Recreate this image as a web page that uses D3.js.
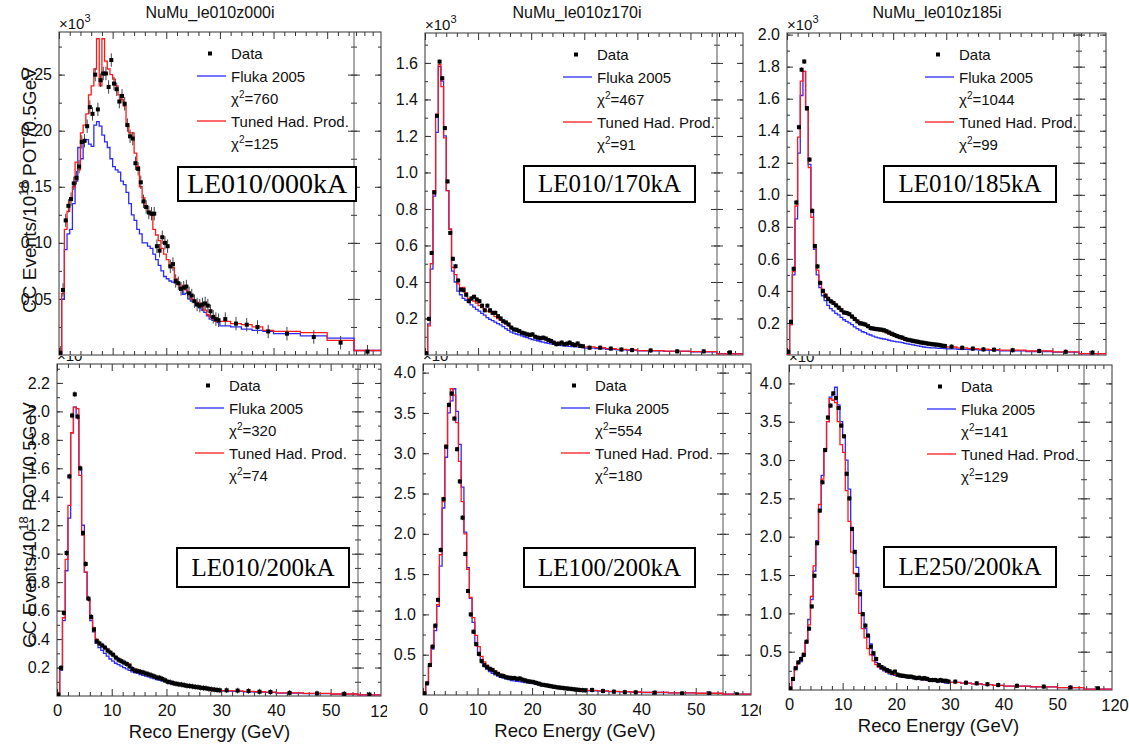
<!DOCTYPE html>
<html><head><meta charset="utf-8">
<script src="https://cdn.jsdelivr.net/npm/d3@7"></script>
<style>
body{margin:0;background:#fff;}
svg{display:block;font-family:"Liberation Sans",Arial,Helvetica,sans-serif;}
</style></head><body>
<svg id="c" width="1129" height="749"></svg>
<script>
// ---------- bin edges (GeV): 0.5 GeV up to 30, then wider bins, last bin in the compressed 55-120 region
const binEdges = d3.range(0, 30, 0.5).concat([30, 32, 34, 36, 38, 40, 45, 50, 55, 120]);

// ---------- LE010/000kA
const dataTL = [0.002,0.058,0.120,0.133,0.139,0.153,0.158,0.168,0.190,0.191,
 0.204,0.221,0.215,0.250,0.219,0.245,0.251,0.251,0.239,0.263,
 0.242,0.237,0.226,0.231,0.224,0.205,0.195,0.193,0.171,0.166,
 0.154,0.137,0.132,0.127,0.126,0.126,0.097,0.093,0.105,0.100,
 0.097,0.079,0.081,0.066,0.064,0.059,0.060,0.061,0.055,0.053,
 0.048,0.045,0.044,0.045,0.046,0.044,0.039,0.034,0.032,0.031,
 0.032,0.028,0.027,0.025,0.021,0.019,0.016,0.011,0.003];
const tunedTL = [0.000,0.055,0.112,0.128,0.140,0.150,0.172,0.165,0.198,0.205,
 0.215,0.232,0.240,0.255,0.282,0.240,0.282,0.262,0.255,0.250,
 0.246,0.240,0.232,0.228,0.222,0.205,0.198,0.198,0.180,0.168,
 0.150,0.140,0.133,0.128,0.125,0.112,0.107,0.102,0.095,0.090,
 0.085,0.080,0.078,0.068,0.064,0.060,0.062,0.058,0.055,0.050,
 0.048,0.047,0.046,0.044,0.040,0.036,0.034,0.032,0.030,0.030,
 0.030,0.028,0.027,0.025,0.022,0.021,0.020,0.013,0.004];
const flukaTL = [0.000,0.050,0.094,0.108,0.112,0.135,0.155,0.185,0.175,0.190,
 0.192,0.188,0.186,0.205,0.208,0.204,0.196,0.190,0.185,0.175,
 0.168,0.165,0.163,0.155,0.152,0.145,0.135,0.125,0.120,0.112,
 0.108,0.100,0.100,0.097,0.095,0.090,0.085,0.080,0.075,0.070,
 0.068,0.066,0.065,0.064,0.063,0.060,0.054,0.055,0.050,0.048,
 0.047,0.044,0.042,0.040,0.038,0.035,0.032,0.031,0.030,0.029,
 0.026,0.025,0.023,0.022,0.021,0.019,0.017,0.015,0.004];

// ---------- LE010/170kA
const dataTM = [0.010,0.198,0.559,0.891,1.310,1.607,1.516,1.243,0.951,0.669,
 0.527,0.486,0.408,0.359,0.355,0.330,0.295,0.310,0.319,0.304,
 0.295,0.270,0.245,0.270,0.245,0.231,0.231,0.213,0.200,0.185,
 0.178,0.167,0.150,0.140,0.138,0.131,0.122,0.118,0.113,0.110,
 0.113,0.100,0.095,0.092,0.095,0.090,0.082,0.077,0.068,0.059,
 0.062,0.068,0.059,0.062,0.068,0.059,0.055,0.063,0.050,0.048,
 0.040,0.040,0.035,0.030,0.027,0.025,0.020,0.020,0.014];
const tunedTM = [0.000,0.160,0.500,0.900,1.320,1.590,1.470,1.190,0.900,0.690,
 0.480,0.440,0.390,0.360,0.370,0.340,0.310,0.300,0.295,0.285,
 0.270,0.260,0.250,0.240,0.235,0.225,0.210,0.200,0.190,0.180,
 0.172,0.162,0.152,0.145,0.138,0.132,0.126,0.120,0.115,0.110,
 0.106,0.100,0.096,0.092,0.088,0.085,0.080,0.076,0.072,0.070,
 0.067,0.064,0.062,0.060,0.058,0.056,0.054,0.052,0.050,0.048,
 0.045,0.040,0.035,0.031,0.028,0.024,0.021,0.018,0.006];
const flukaTM = [0.000,0.170,0.470,0.870,1.220,1.580,1.500,1.200,0.900,0.690,
 0.460,0.400,0.350,0.330,0.310,0.300,0.290,0.275,0.262,0.250,
 0.240,0.228,0.218,0.205,0.195,0.188,0.180,0.172,0.165,0.155,
 0.145,0.135,0.125,0.120,0.115,0.110,0.105,0.100,0.095,0.090,
 0.085,0.082,0.078,0.074,0.070,0.067,0.064,0.061,0.058,0.056,
 0.054,0.052,0.050,0.049,0.047,0.046,0.045,0.044,0.043,0.042,
 0.038,0.035,0.031,0.028,0.026,0.023,0.020,0.017,0.007];

// ---------- LE010/185kA
const dataTR = [0.020,0.207,0.538,0.952,1.422,1.781,1.832,1.540,1.220,0.900,
 0.680,0.553,0.450,0.400,0.370,0.350,0.335,0.325,0.310,0.295,
 0.280,0.265,0.262,0.255,0.240,0.225,0.210,0.198,0.195,0.190,
 0.180,0.168,0.165,0.162,0.160,0.158,0.155,0.148,0.140,0.132,
 0.125,0.118,0.112,0.108,0.100,0.095,0.092,0.088,0.085,0.082,
 0.078,0.076,0.073,0.070,0.068,0.066,0.064,0.062,0.058,0.056,
 0.052,0.045,0.040,0.035,0.033,0.030,0.025,0.020,0.015];
const tunedTR = [0.000,0.190,0.520,0.930,1.360,1.710,1.770,1.530,1.170,0.860,
 0.670,0.530,0.450,0.410,0.380,0.360,0.340,0.330,0.310,0.295,
 0.280,0.270,0.260,0.250,0.240,0.228,0.215,0.205,0.198,0.190,
 0.182,0.172,0.165,0.160,0.155,0.150,0.145,0.140,0.132,0.125,
 0.118,0.112,0.106,0.100,0.096,0.092,0.088,0.084,0.080,0.077,
 0.074,0.071,0.068,0.066,0.064,0.062,0.060,0.058,0.056,0.054,
 0.050,0.045,0.040,0.036,0.033,0.030,0.025,0.020,0.008];
const flukaTR = [0.000,0.190,0.500,0.850,1.260,1.620,1.770,1.550,1.190,0.890,
 0.660,0.500,0.420,0.370,0.340,0.310,0.290,0.275,0.260,0.250,
 0.235,0.220,0.210,0.200,0.190,0.175,0.165,0.155,0.145,0.140,
 0.130,0.125,0.118,0.112,0.107,0.103,0.100,0.097,0.092,0.088,
 0.085,0.082,0.080,0.077,0.073,0.070,0.066,0.063,0.060,0.057,
 0.054,0.050,0.048,0.046,0.045,0.044,0.043,0.042,0.041,0.040,
 0.038,0.036,0.034,0.031,0.029,0.026,0.022,0.018,0.008];

// ---------- LE010/200kA
const dataBL = [0.010,0.198,0.584,1.005,1.543,1.971,2.120,1.963,1.600,1.145,
 0.928,0.684,0.556,0.467,0.385,0.370,0.355,0.340,0.320,0.305,
 0.290,0.270,0.255,0.245,0.235,0.225,0.210,0.190,0.178,0.175,
 0.170,0.165,0.158,0.152,0.145,0.138,0.130,0.128,0.120,0.110,
 0.100,0.096,0.090,0.086,0.082,0.080,0.076,0.072,0.070,0.067,
 0.064,0.062,0.058,0.056,0.054,0.050,0.047,0.045,0.042,0.040,
 0.040,0.038,0.035,0.030,0.028,0.022,0.018,0.015,0.010];
const tunedBL = [0.000,0.200,0.550,0.960,1.340,1.850,2.030,2.020,1.550,1.130,
 0.870,0.680,0.550,0.480,0.400,0.370,0.360,0.345,0.330,0.310,
 0.290,0.275,0.260,0.245,0.230,0.220,0.225,0.200,0.190,0.180,
 0.175,0.170,0.162,0.155,0.145,0.140,0.135,0.128,0.120,0.110,
 0.105,0.100,0.094,0.090,0.085,0.080,0.078,0.074,0.070,0.068,
 0.064,0.060,0.058,0.055,0.052,0.050,0.047,0.045,0.043,0.040,
 0.038,0.036,0.033,0.030,0.027,0.022,0.018,0.014,0.008];
const flukaBL = [0.000,0.180,0.530,0.880,1.250,1.850,2.030,1.960,1.600,1.200,
 0.870,0.680,0.530,0.450,0.370,0.340,0.320,0.300,0.280,0.260,
 0.245,0.230,0.220,0.210,0.200,0.190,0.180,0.170,0.165,0.160,
 0.150,0.145,0.140,0.135,0.128,0.122,0.115,0.110,0.105,0.100,
 0.095,0.090,0.086,0.082,0.078,0.074,0.070,0.066,0.064,0.060,
 0.057,0.055,0.052,0.050,0.048,0.046,0.044,0.042,0.040,0.038,
 0.035,0.033,0.030,0.028,0.026,0.020,0.017,0.013,0.008];

// ---------- LE100/200kA
const dataBM = [0.020,0.145,0.372,0.600,0.860,1.180,1.800,2.430,3.080,3.600,
 3.740,3.430,3.050,2.650,2.200,1.750,1.290,1.000,0.785,0.630,
 0.510,0.420,0.370,0.345,0.325,0.310,0.280,0.260,0.240,0.235,
 0.220,0.215,0.210,0.210,0.200,0.205,0.190,0.180,0.170,0.165,
 0.160,0.150,0.140,0.128,0.124,0.118,0.112,0.105,0.100,0.094,
 0.090,0.086,0.082,0.078,0.075,0.070,0.066,0.062,0.060,0.058,
 0.062,0.050,0.041,0.035,0.033,0.029,0.020,0.020,0.008];
const tunedBM = [0.000,0.140,0.360,0.600,0.860,1.120,1.740,2.400,3.100,3.580,
 3.800,3.720,3.380,2.900,2.400,2.000,1.560,1.210,0.960,0.740,
 0.600,0.480,0.410,0.370,0.340,0.320,0.300,0.280,0.260,0.240,
 0.230,0.220,0.210,0.205,0.200,0.190,0.180,0.175,0.170,0.165,
 0.160,0.150,0.140,0.132,0.125,0.118,0.112,0.106,0.100,0.095,
 0.090,0.086,0.082,0.078,0.075,0.071,0.068,0.065,0.062,0.060,
 0.058,0.052,0.046,0.041,0.037,0.032,0.027,0.022,0.010];
const flukaBM = [0.000,0.140,0.360,0.570,0.800,1.100,1.600,2.320,2.950,3.500,
 3.650,3.800,3.520,3.110,2.580,2.020,1.580,1.200,0.900,0.650,
 0.520,0.420,0.360,0.320,0.290,0.270,0.250,0.235,0.220,0.210,
 0.200,0.190,0.180,0.175,0.170,0.165,0.160,0.155,0.150,0.145,
 0.140,0.133,0.126,0.120,0.114,0.108,0.102,0.097,0.092,0.087,
 0.083,0.079,0.075,0.071,0.068,0.065,0.062,0.059,0.056,0.054,
 0.052,0.048,0.043,0.039,0.035,0.031,0.026,0.021,0.010];

// ---------- LE250/200kA
const dataBR = [0.020,0.144,0.283,0.360,0.405,0.457,0.630,0.800,1.090,1.490,
 1.915,2.340,2.710,3.130,3.555,3.710,3.870,3.810,3.680,3.450,
 3.310,2.820,2.500,2.100,1.800,1.500,1.250,0.990,0.840,0.710,
 0.565,0.480,0.405,0.326,0.300,0.280,0.260,0.245,0.225,0.240,
 0.200,0.190,0.185,0.180,0.174,0.174,0.165,0.155,0.160,0.150,
 0.155,0.145,0.130,0.130,0.130,0.120,0.130,0.120,0.120,0.110,
 0.109,0.095,0.087,0.075,0.065,0.055,0.044,0.033,0.022];
const tunedBR = [0.000,0.140,0.300,0.360,0.400,0.480,0.620,0.850,1.220,1.620,
 1.930,2.420,2.750,3.150,3.500,3.800,3.780,3.750,3.500,3.200,
 3.100,2.600,2.200,1.800,1.520,1.250,1.000,0.800,0.680,0.540,
 0.460,0.380,0.330,0.300,0.280,0.260,0.240,0.220,0.210,0.200,
 0.190,0.180,0.175,0.170,0.165,0.160,0.155,0.150,0.145,0.140,
 0.135,0.130,0.128,0.125,0.120,0.118,0.115,0.112,0.110,0.108,
 0.100,0.090,0.080,0.070,0.060,0.050,0.040,0.030,0.012];
const flukaBR = [0.000,0.130,0.280,0.350,0.370,0.450,0.620,0.920,1.180,1.550,
 1.950,2.350,2.800,3.150,3.500,3.820,3.850,3.950,3.720,3.500,
 3.320,3.000,2.620,2.120,1.820,1.600,1.300,1.000,0.800,0.700,
 0.600,0.450,0.360,0.300,0.270,0.250,0.230,0.210,0.200,0.190,
 0.180,0.175,0.170,0.165,0.160,0.155,0.150,0.145,0.140,0.135,
 0.130,0.125,0.120,0.120,0.115,0.110,0.105,0.100,0.090,0.100,
 0.100,0.090,0.080,0.070,0.060,0.050,0.040,0.030,0.012];

// ---------- tick values
const xMajor = [0, 10, 20, 30, 40, 50];
const xMinor = [2,4,6,8,12,14,16,18,22,24,26,28,32,34,36,38,42,44,46,48,52,54,60,80,100];
const yTicksTL = [0.05, 0.10, 0.15, 0.20, 0.25];
const yTicksTM = [0.2, 0.4, 0.6, 0.8, 1.0, 1.2, 1.4, 1.6];
const yTicksTR = [0.2, 0.4, 0.6, 0.8, 1.0, 1.2, 1.4, 1.6, 1.8, 2.0];
const yTicksBL = [0.2, 0.4, 0.6, 0.8, 1.0, 1.2, 1.4, 1.6, 1.8, 2.0, 2.2];
const yTicksBM = [0.5, 1.0, 1.5, 2.0, 2.5, 3.0, 3.5, 4.0];
const yTicksBR = [0.5, 1.0, 1.5, 2.0, 2.5, 3.0, 3.5, 4.0];

const panels = [
 {id:'TL', title:'NuMu_le010z000i', tag:'LE010/000kA', chiF:'760', chiT:'125', data:dataTL, fluka:flukaTL, tuned:tunedTL,
  ymax:0.288, yTicks:yTicksTL, yMinorStep:0.025, fmt:'.2f', err:0.006,
  l:59, t:32, r:381, b:355, brk:354, box:[178,167,178,34,28], bottomRow:false, titleX:210},
 {id:'TM', title:'NuMu_le010z170i', tag:'LE010/170kA', chiF:'467', chiT:'91', data:dataTM, fluka:flukaTM, tuned:tunedTM,
  ymax:1.764, yTicks:yTicksTM, yMinorStep:0.1, fmt:'.1f', err:0.012,
  l:425, t:33, r:743, b:355, brk:717, box:[524,166,171,36,25], bottomRow:false, titleX:577},
 {id:'TR', title:'NuMu_le010z185i', tag:'LE010/185kA', chiF:'1044', chiT:'99', data:dataTR, fluka:flukaTR, tuned:tunedTR,
  ymax:2.01, yTicks:yTicksTR, yMinorStep:0.1, fmt:'.1f', err:0.015,
  l:787, t:33, r:1106, b:355, brk:1079, box:[884,166,172,36,25], bottomRow:false, titleX:937},
 {id:'BL', title:'', tag:'LE010/200kA', chiF:'320', chiT:'74', data:dataBL, fluka:flukaBL, tuned:tunedBL,
  ymax:2.333, yTicks:yTicksBL, yMinorStep:0.1, fmt:'.1f', err:0.02,
  l:57, t:364, r:381, b:696, brk:358, box:[177,548,172,39,25], bottomRow:true, clipRight:387},
 {id:'BM', title:'', tag:'LE100/200kA', chiF:'554', chiT:'180', data:dataBM, fluka:flukaBM, tuned:tunedBM,
  ymax:4.107, yTicks:yTicksBM, yMinorStep:0.25, fmt:'.1f', err:0.03,
  l:423, t:364, r:751, b:695, brk:723, box:[524,548,171,39,25], bottomRow:true, clipRight:761},
 {id:'BR', title:'', tag:'LE250/200kA', chiF:'141', chiT:'129', data:dataBR, fluka:flukaBR, tuned:tunedBR,
  ymax:4.24, yTicks:yTicksBR, yMinorStep:0.25, fmt:'.1f', err:0.03,
  l:789, t:365, r:1112, b:690, brk:1084, box:[884,547,172,40,25], bottomRow:true, clipRight:1129}
];

const svg = d3.select('#c');
const defs = svg.append('defs');
const BLUE = '#2b2bff', RED = '#ff1a1a', FRAME = '#333';

function styleAxis(g, showLabels, fs) {
  g.attr('font-family', null).attr('font-size', fs || 16);
  g.select('.domain').remove();
  g.selectAll('.tick line').attr('stroke', FRAME).attr('stroke-width', 1);
  g.selectAll('.tick text').attr('fill', '#111');
  if (!showLabels) g.selectAll('.tick text').remove();
}

function drawPanel(p) {
  const g = svg.append('g').attr('class', 'panel-' + p.id);
  const x = d3.scaleLinear().domain([0, 55, 120]).range([p.l, p.brk, p.r]);
  const y = d3.scaleLinear().domain([0, p.ymax]).range([p.b, p.t]);

  defs.append('clipPath').attr('id', 'clip' + p.id).append('rect')
    .attr('x', p.l).attr('y', p.t).attr('width', p.r - p.l).attr('height', p.b - p.t);

  const minor = d3.range(p.yMinorStep, p.ymax, p.yMinorStep);

  // y axes: left (labels), right edge, break line (both sides)
  const yl = g.append('g').attr('transform', `translate(${p.l},0)`)
    .call(d3.axisLeft(y).tickValues(p.yTicks).tickSizeInner(-6).tickSizeOuter(0).tickPadding(7).tickFormat(d3.format(p.fmt)));
  styleAxis(yl, true, 16);
  const sides = [
    {pos:p.l, axis:d3.axisLeft}, {pos:p.r, axis:d3.axisRight},
    {pos:p.brk, axis:d3.axisRight}, {pos:p.brk, axis:d3.axisLeft}];
  sides.forEach((s, i) => {
    if (i > 0) {
      const gm = g.append('g').attr('transform', `translate(${s.pos},0)`)
        .call(s.axis(y).tickValues(p.yTicks).tickSizeInner(-6).tickSizeOuter(0));
      styleAxis(gm, false);
    }
    const gn = g.append('g').attr('transform', `translate(${s.pos},0)`)
      .call(s.axis(y).tickValues(minor).tickSizeInner(-3).tickSizeOuter(0));
    styleAxis(gn, false);
  });

  // x axes: bottom and top
  const xb = g.append('g').attr('transform', `translate(0,${p.b})`)
    .call(d3.axisBottom(x).tickValues(xMajor).tickSizeInner(-7).tickSizeOuter(0).tickPadding(8));
  styleAxis(xb, p.bottomRow, 16.5);
  [[d3.axisBottom, p.b], [d3.axisTop, p.t]].forEach(([ax, pos], i) => {
    if (i === 1) {
      const gt = g.append('g').attr('transform', `translate(0,${pos})`)
        .call(ax(x).tickValues(xMajor).tickSizeInner(-7).tickSizeOuter(0));
      styleAxis(gt, false);
    }
    const gm = g.append('g').attr('transform', `translate(0,${pos})`)
      .call(ax(x).tickValues(xMinor).tickSizeInner(-4).tickSizeOuter(0));
    styleAxis(gm, false);
  });
  if (p.bottomRow) {
    defs.append('clipPath').attr('id', 'lab' + p.id).append('rect')
      .attr('x', p.l - 30).attr('y', p.b).attr('width', p.clipRight - p.l + 30).attr('height', 40);
    g.append('text').attr('clip-path', `url(#lab${p.id})`)
      .attr('x', x(120) + 3).attr('y', p.b + 8 + 13).attr('text-anchor', 'middle')
      .attr('font-size', 16.5).attr('fill', '#111').text('120');
    g.append('text').attr('x', (x(0) + x(55)) / 2 + 2).attr('y', p.b + 42)
      .attr('text-anchor', 'middle').attr('font-size', 18.5).attr('fill', '#111').text('Reco Energy (GeV)');
  }

  // frame + break line
  g.append('rect').attr('x', p.l).attr('y', p.t).attr('width', p.r - p.l).attr('height', p.b - p.t)
    .attr('fill', 'none').attr('stroke', FRAME).attr('stroke-width', 1);
  g.append('line').attr('x1', x(55)).attr('x2', x(55)).attr('y1', p.t).attr('y2', p.b)
    .attr('stroke', '#555').attr('stroke-width', 1);

  // histograms
  const line = d3.line().x(d => x(d[0])).y(d => y(d[1]));
  function steps(vals) {
    const pts = [[binEdges[0], 0]];
    vals.forEach((v, i) => { pts.push([binEdges[i], v]); pts.push([binEdges[i + 1], v]); });
    return pts;
  }
  const hg = g.append('g').attr('clip-path', `url(#clip${p.id})`);
  hg.append('path').attr('d', line(steps(p.fluka))).attr('fill', 'none').attr('stroke', BLUE).attr('stroke-width', 1.3);
  hg.append('path').attr('d', line(steps(p.tuned))).attr('fill', 'none').attr('stroke', RED).attr('stroke-width', 1.3);

  // data points with error bars
  const pts = p.data.map((v, i) => ({xc: (binEdges[i] + binEdges[i + 1]) / 2, v}));
  hg.selectAll('line.err').data(pts).join('line').attr('class', 'err')
    .attr('x1', d => x(d.xc)).attr('x2', d => x(d.xc))
    .attr('y1', d => y(Math.max(0, d.v - p.err))).attr('y2', d => y(d.v + p.err))
    .attr('stroke', '#444').attr('stroke-width', 1);
  hg.selectAll('rect.pt').data(pts).join('rect').attr('class', 'pt')
    .attr('x', d => x(d.xc) - 2).attr('y', d => y(d.v) - 2).attr('width', 4).attr('height', 4).attr('fill', '#000');

  // x10^3 label
  const ex = g.append('text').attr('x', p.l).attr('y', p.t - 3).attr('font-size', 15).attr('fill', '#111');
  ex.append('tspan').text('\u00d710');
  ex.append('tspan').attr('dy', -7).attr('font-size', 11).text('3');
  if (p.bottomRow) {
    defs.append('clipPath').attr('id', 'ex' + p.id).append('rect')
      .attr('x', p.l - 5).attr('y', 356).attr('width', 60).attr('height', p.t - 356);
    ex.attr('clip-path', `url(#ex${p.id})`);
  }

  // title
  if (p.title) {
    g.append('text').attr('x', p.titleX).attr('y', 18).attr('text-anchor', 'middle')
      .attr('font-size', 16).attr('fill', '#111').text(p.title);
  }

  // legend
  const lx = p.l + 138, tx = p.l + 172, ry = k => p.t + 21.5 + k * 22.5;
  g.append('rect').attr('x', p.l + 151 - 2).attr('y', ry(0) - 2).attr('width', 4).attr('height', 4).attr('fill', '#000');
  g.append('line').attr('x1', lx).attr('x2', lx + 29).attr('y1', ry(1)).attr('y2', ry(1)).attr('stroke', BLUE).attr('stroke-width', 1.3);
  g.append('line').attr('x1', lx).attr('x2', lx + 29).attr('y1', ry(3)).attr('y2', ry(3)).attr('stroke', RED).attr('stroke-width', 1.3);
  const legTxt = (k) => g.append('text').attr('x', tx).attr('y', ry(k) + 5.5).attr('font-size', 15).attr('fill', '#111');
  legTxt(0).text('Data');
  legTxt(1).text('Fluka 2005');
  legTxt(3).text('Tuned Had. Prod.');
  [[2, p.chiF], [4, p.chiT]].forEach(([k, c]) => {
    const t = legTxt(k);
    t.append('tspan').text('\u03c7');
    t.append('tspan').attr('dy', -6).attr('font-size', 10).text('2');
    t.append('tspan').attr('dy', 6).text('=' + c);
  });

  // configuration box
  const [bx, by, bw, bh, bfs] = p.box;
  g.append('rect').attr('x', bx).attr('y', by).attr('width', bw).attr('height', bh)
    .attr('fill', '#fff').attr('stroke', '#000').attr('stroke-width', 2);
  g.append('text').attr('x', bx + bw / 2).attr('y', by + bh / 2 + bfs * 0.33).attr('text-anchor', 'middle')
    .attr('font-family', '"Liberation Serif","Times New Roman",serif').attr('font-size', bfs).attr('fill', '#000').text(p.tag);
}

panels.forEach(drawPanel);

// y-axis titles
[190, 525].forEach(cy => {
  const t = svg.append('text').attr('transform', `translate(36,${cy}) rotate(-90)`)
    .attr('text-anchor', 'middle').attr('font-size', 19).attr('fill', '#111');
  t.append('tspan').text('CC Events/10');
  t.append('tspan').attr('dy', -8).attr('font-size', 13).text('18');
  t.append('tspan').attr('dy', 8).text(' POT/0.5GeV');
});
</script>
</body></html>
